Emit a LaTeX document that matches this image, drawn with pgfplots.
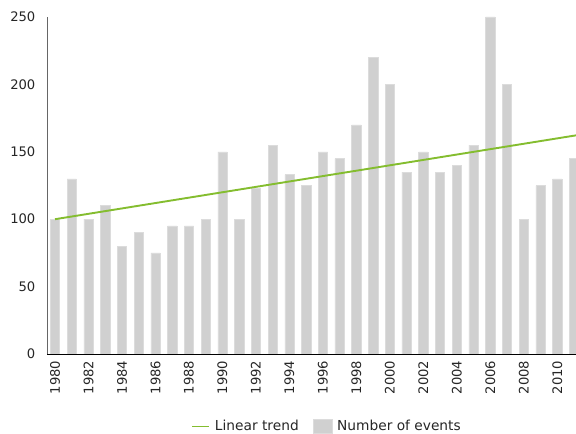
\documentclass[border=0pt]{standalone}
\usepackage{pgfplots}
\pgfplotsset{compat=1.18}
\usepackage{pgfplotstable}
\usepackage{fontspec}
\setmainfont{DejaVu Sans}
\definecolor{trendgreen}{HTML}{84BD2F}
\definecolor{bargray}{HTML}{D0D0D0}
\definecolor{baredge}{HTML}{DCDCDC}

\pgfplotsset{
  barlegend/.style={
    legend image code/.code={\draw[##1] (0bp,-7bp) rectangle (19bp,7bp);}},
}

\pgfplotstableread{
year events
1980 100
1981 130
1982 100
1983 110
1984 80
1985 90
1986 75
1987 95
1988 95
1989 100
1990 150
1991 100
1992 123
1993 155
1994 133
1995 125
1996 150
1997 145
1998 170
1999 220
2000 200
2001 135
2002 150
2003 135
2004 140
2005 155
2006 250
2007 200
2008 100
2009 125
2010 130
2011 145
}\eventdata

\begin{document}
\fontsize{13}{15}\selectfont
\begin{tikzpicture}
  \begin{axis}[
    at={(0,0)}, anchor=south west,
    scale only axis,
    width=529bp, height=337bp,
    xmin=1979.52, xmax=2011.12,
    ymin=0, ymax=250,
    axis on top,
    axis lines=left,
    axis line style={-},
    x axis line style={black, line width=0.8bp},
    y axis line style={black!60, line width=0.8bp},
    tick style={draw=none},
    xtick={1980,1982,...,2010},
    ytick={0,50,...,250},
    /pgf/number format/assume math mode=true,
    /pgf/number format/1000 sep={},
    xticklabel style={rotate=90, anchor=east},
    yticklabel style={xshift=-5bp},
    tick label style={font=\fontsize{13.2}{15}\selectfont, text=black!85},
    legend columns=2,
    reverse legend,
    legend style={draw=none, fill=none, inner sep=0pt,
      at={(axis description cs:0.272,-0.215)}, anchor=west,
      font=\fontsize{13.8}{15}\selectfont, text=black!85,
      nodes={inner ysep=0.5bp},
      /tikz/every odd column/.append style={column sep=3bp},
      /tikz/every even column/.append style={column sep=12bp}},
  ]
    \addplot[ybar, bar width=9.3bp, fill=bargray, draw=baredge, line width=0.5bp,
      area legend, barlegend]
      table[x=year, y=events] {\eventdata};
    \addlegendentry{Number of events}
    \addplot[trendgreen, line width=1.9bp] coordinates {(1980,100) (2011.12,162.2)};
    \addlegendentry{Linear trend}
  \end{axis}
  \pgfresetboundingbox
  \path (-47bp,-80bp) rectangle (529bp,354bp);
\end{tikzpicture}
\end{document}
